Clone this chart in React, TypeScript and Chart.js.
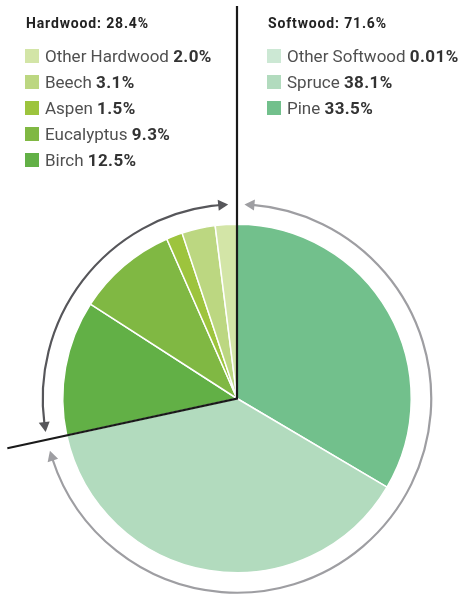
import React, { useEffect, useRef } from "react";
import { Chart, registerables } from "chart.js";

Chart.register(...registerables);

// Slices in drawing order, clockwise from 12 o'clock
const sliceLabels = ["Pine", "Spruce", "Other Softwood", "Birch", "Eucalyptus", "Aspen", "Beech", "Other Hardwood"];
const sliceValues = [33.5, 38.1, 0.01, 12.5, 9.3, 1.5, 3.1, 2.0];
const sliceValueText = ["33.5%", "38.1%", "0.01%", "12.5%", "9.3%", "1.5%", "3.1%", "2.0%"];
const sliceColors = ["#72c08c", "#b2dbbe", "#cce8d4", "#62b046", "#80b843", "#9dc43d", "#bcd781", "#d3e5a7"];

const groupTitles = ["Hardwood: 28.4%", "Softwood: 71.6%"];
const hardwoodLegend = [7, 6, 5, 4, 3]; // indices into slice arrays
const softwoodLegend = [2, 1, 0];
const softwoodLastIndex = 2;

const FONT = "Roboto, 'DejaVu Sans', sans-serif";

function drawArcArrow(ctx: CanvasRenderingContext2D, cx: number, cy: number, r: number, a1: number, a2: number, color: string) {
  const h = 10;
  const w = 5.5;
  const dh = h / r;
  ctx.strokeStyle = color;
  ctx.fillStyle = color;
  ctx.lineWidth = 2.2;
  ctx.beginPath();
  ctx.arc(cx, cy, r, a1 + dh * 0.8, a2 - dh * 0.8, false);
  ctx.stroke();
  const head = (a: number, dir: number) => {
    const tx = cx + r * Math.cos(a);
    const ty = cy + r * Math.sin(a);
    const ab = a - dir * dh;
    const bx = cx + r * Math.cos(ab);
    const by = cy + r * Math.sin(ab);
    const nx = Math.cos(ab);
    const ny = Math.sin(ab);
    ctx.beginPath();
    ctx.moveTo(tx, ty);
    ctx.lineTo(bx + nx * w, by + ny * w);
    ctx.lineTo(bx - nx * w, by - ny * w);
    ctx.closePath();
    ctx.fill();
  };
  head(a2, 1);
  head(a1, -1);
}

const overlayPlugin = {
  id: "woodOverlay",
  afterDatasetsDraw(chart: any) {
    const ctx: CanvasRenderingContext2D = chart.ctx;
    const arcs = chart.getDatasetMeta(0).data;
    const first = arcs[0];
    const cx = first.x;
    const cy = first.y;
    const R = first.outerRadius;
    const topAngle = first.startAngle;
    const split = arcs[softwoodLastIndex].endAngle;
    const deg = Math.PI / 180;
    ctx.save();
    const ar = R + 20;
    drawArcArrow(ctx, cx, cy, ar, topAngle + 2.2 * deg, split - 3.4 * deg, "#9e9ea2");
    drawArcArrow(ctx, cx, cy, ar, split + 2.3 * deg, topAngle + 2 * Math.PI - 2.6 * deg, "#56565a");
    ctx.strokeStyle = "#1a1a1a";
    ctx.lineWidth = 2.2;
    ctx.lineCap = "butt";
    ctx.beginPath();
    const lenTop = cy - 6;
    ctx.moveTo(cx + lenTop * Math.cos(topAngle), cy + lenTop * Math.sin(topAngle));
    ctx.lineTo(cx, cy);
    const lenSplit = 235;
    ctx.lineTo(cx + lenSplit * Math.cos(split), cy + lenSplit * Math.sin(split));
    ctx.stroke();
    ctx.restore();
  },
};

function LegendBlock({ title, items, left }: { title: string; items: number[]; left: number }) {
  return (
    <div style={{ position: "absolute", left, top: 0 }}>
      <div
        style={{
          position: "absolute",
          left: 1,
          top: 14,
          fontFamily: FONT,
          fontWeight: 700,
          fontSize: 14,
          letterSpacing: 0.85,
          color: "#222",
          whiteSpace: "nowrap",
          lineHeight: "18px",
        }}
      >
        {title}
      </div>
      {items.map((idx, i) => (
        <div
          key={idx}
          style={{
            position: "absolute",
            left: 0,
            top: 43 + i * 26,
            height: 26,
            display: "flex",
            alignItems: "center",
            whiteSpace: "nowrap",
            fontFamily: FONT,
            fontSize: 17,
            color: "#505050",
          }}
        >
          <span style={{ display: "inline-block", width: 14, height: 14, background: sliceColors[idx], marginRight: 6 }} />
          <span>{sliceLabels[idx]}&nbsp;</span>
          <span style={{ fontWeight: 700, color: "#333", letterSpacing: 0.4 }}>{sliceValueText[idx]}</span>
        </div>
      ))}
    </div>
  );
}

export default function App() {
  const canvasRef = useRef<HTMLCanvasElement | null>(null);

  useEffect(() => {
    if (!canvasRef.current) return;
    const chart = new Chart(canvasRef.current, {
      type: "pie",
      data: {
        labels: sliceLabels,
        datasets: [
          {
            data: sliceValues,
            backgroundColor: sliceColors,
            borderColor: "#ffffff",
            borderWidth: 1.5,
          },
        ],
      },
      options: {
        responsive: false,
        animation: false,
        events: [],
        layout: { padding: { left: 62, right: 47, top: 223.5, bottom: 21.5 } },
        plugins: {
          legend: { display: false },
          tooltip: { enabled: false },
        },
      },
      plugins: [overlayPlugin],
    });
    return () => chart.destroy();
  }, []);

  return (
    <div style={{ position: "absolute", left: 0, top: 0, width: 459, height: 595, background: "#fff", overflow: "hidden" }}>
      <canvas ref={canvasRef} width={459} height={595} style={{ position: "absolute", left: 0, top: 0 }} />
      <LegendBlock title={groupTitles[0]} items={hardwoodLegend} left={25} />
      <LegendBlock title={groupTitles[1]} items={softwoodLegend} left={267} />
    </div>
  );
}
